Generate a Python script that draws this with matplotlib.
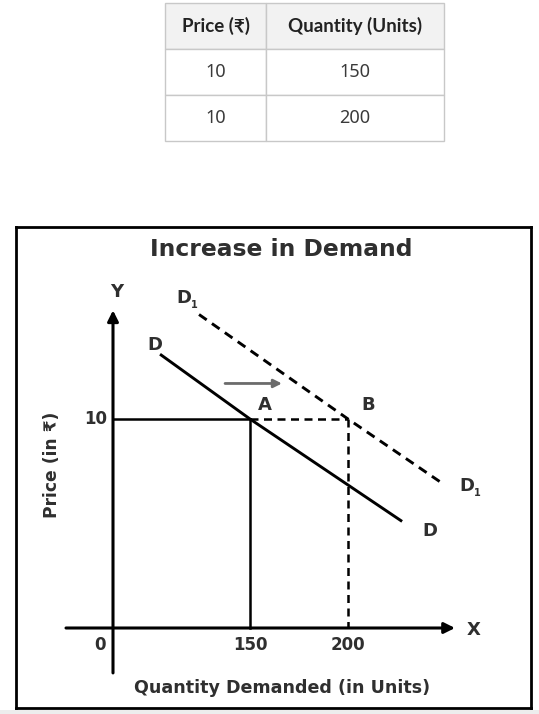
import numpy as np
import matplotlib
matplotlib.use("Agg")
import matplotlib.pyplot as plt
from matplotlib.patches import Rectangle

# ---------------- data ----------------
table_headers = ["Price (₹)", "Quantity (Units)"]
table_prices = [10, 10]
table_quantities = [150, 200]

title = "Increase in Demand"
x_label = "Quantity Demanded (in Units)"
y_label = "Price (in ₹)"
x_ticks = [0, 150, 200]
y_ticks = [10]

point_A = (150, 10)
point_B = (200, 10)
demand_D_q = [51.5, 150, 227.6]
demand_D_p = [13.1, 10, 5.1]
demand_D1_q = [94.2, 200, 246.9]
demand_D1_p = [15.0, 10, 7.0]
shift_arrow_q = [122.7, 166.3]
shift_arrow_p = 11.7

# schematic quantity axis (diagram not to scale)
q_knots = [-300, 0, 150, 200, 400]
pos_knots = [-273.9, 0, 137, 235, 627]

def fwd(q):
    return np.interp(q, q_knots, pos_knots)

def inv(p):
    return np.interp(p, pos_knots, q_knots)

HFONT = ["Lato", "Liberation Sans", "DejaVu Sans"]
TFONT = ["Noto Sans", "DejaVu Sans"]
CFONT = ["DejaVu Sans"]
TXT = "#2f2f2f"

W, H = 539, 714
fig = plt.figure(figsize=(W / 100, H / 100), dpi=100)
fig.patch.set_facecolor("white")

def fig_rect(x0, y0, x1, y1):
    return [x0 / W, 1 - y1 / H, (x1 - x0) / W, (y1 - y0) / H]

# light strip at the very bottom
fig.patches.append(Rectangle((0, 0), 1, 4 / H, transform=fig.transFigure,
                             facecolor="#ededed", edgecolor="none", zorder=0))

# ---------------- table ----------------
tax = fig.add_axes(fig_rect(165, 3, 444, 141))
tax.axis("off")
cell_text = [[str(p), str(q)] for p, q in zip(table_prices, table_quantities)]
tbl = tax.table(cellText=cell_text, colLabels=table_headers,
                colWidths=[101, 178], bbox=[0, 0, 1, 1], cellLoc="center")
tbl.auto_set_font_size(False)
for (r, c), cell in tbl.get_celld().items():
    cell.set_edgecolor("#c8c8c8")
    cell.set_linewidth(1.0)
    t = cell.get_text()
    if r == 0:
        cell.set_facecolor("#f2f2f2")
        t.set_family(HFONT)
        t.set_fontweight("bold")
        t.set_color("#222222")
        t.set_fontsize(13.5)
    else:
        cell.set_facecolor("white")
        t.set_family(TFONT)
        t.set_color("#3a3a3a")
        t.set_fontsize(13)

# ---------------- diagram ----------------
ax = fig.add_axes(fig_rect(16, 227, 531, 708))
ax.set_xscale("function", functions=(fwd, inv))
ax.set_xlim(inv(16 - 113), inv(531 - 113))
ax.set_ylim((628 - 708) / 20.9, (628 - 227) / 20.9)
ax.set_xticks([])
ax.set_yticks([])
for s in ax.spines.values():
    s.set_linewidth(2)
    s.set_color("black")

# axes arrows
ax.annotate("", xy=(inv(342), 0), xytext=(inv(-47), 0),
            arrowprops=dict(arrowstyle="-|>", color="black", lw=2.2,
                            mutation_scale=16, shrinkA=0, shrinkB=0))
ax.annotate("", xy=(0, 15.2), xytext=(0, -2.15),
            arrowprops=dict(arrowstyle="-|>", color="black", lw=2.2,
                            mutation_scale=16, shrinkA=0, shrinkB=0))

# demand curves
ax.plot(demand_D_q, demand_D_p, color="black", lw=2.1, solid_capstyle="butt")
ax.plot(demand_D1_q, demand_D1_p, color="black", lw=2.1, ls=(0, (3.2, 2.2)))

# guide lines
ax.plot([0, point_A[0]], [point_A[1], point_A[1]], color="black", lw=1.8)
ax.plot([point_A[0], point_A[0]], [point_A[1], 0], color="black", lw=1.8)
ax.plot([point_A[0], point_B[0]], [point_A[1], point_B[1]], color="black",
        lw=1.8, ls=(0, (3.2, 2.2)))
ax.plot([point_B[0], point_B[0]], [point_B[1], 0], color="black",
        lw=1.8, ls=(0, (3.2, 2.2)))

# shift arrow
ax.annotate("", xy=(shift_arrow_q[1], shift_arrow_p),
            xytext=(shift_arrow_q[0], shift_arrow_p),
            arrowprops=dict(arrowstyle="-|>", color="#6b6b6b", lw=2.0,
                            mutation_scale=12, shrinkA=0, shrinkB=0))

lab = dict(family=CFONT, fontweight="bold", color=TXT, fontsize=13)
tick = dict(family=CFONT, fontweight="bold", color=TXT, fontsize=12)

# title and axis labels
ax.text(0.515, 0.954, title, transform=ax.transAxes, ha="center", va="center",
        family=CFONT, fontweight="bold", color=TXT, fontsize=16.8)
ax.text(inv(169), (628 - 688) / 20.9, x_label, ha="center", va="center",
        family=CFONT, fontweight="bold", color=TXT, fontsize=12.6)
ax.text(inv(52 - 113), (628 - 465) / 20.9, y_label, ha="center", va="center",
        rotation=90, family=CFONT, fontweight="bold", color=TXT, fontsize=12.3)

# tick labels
for q in x_ticks:
    if q == 0:
        ax.text(inv(100 - 113), -0.81, str(q), ha="center", va="center", **tick)
    else:
        ax.text(q, -0.81, str(q), ha="center", va="center", **tick)
for p in y_ticks:
    ax.text(inv(107 - 113), p, str(p), ha="right", va="center", **tick)

# axis letters
ax.text(inv(117 - 113), (628 - 292) / 20.9, "Y", ha="center", va="center", **lab)
ax.text(inv(474 - 113), -0.1, "X", ha="center", va="center", **lab)

# point labels
ax.text(inv(265 - 113), 10.67, "A", ha="center", va="center", **lab)
ax.text(inv(368 - 113), 10.67, "B", ha="center", va="center", **lab)

# curve labels
ax.text(inv(155 - 113), (628 - 345) / 20.9, "D", ha="center", va="center", **lab)
ax.text(inv(430 - 113), (628 - 531) / 20.9, "D", ha="center", va="center", **lab)
for xpx, ypx in [(184, 298), (467, 486)]:
    ax.text(inv(xpx - 113), (628 - ypx) / 20.9, "D", ha="center", va="center", **lab)
    ax.text(inv(xpx + 10 - 113), (628 - ypx - 7) / 20.9, "1", ha="center",
            va="center", family=CFONT, fontweight="bold", color=TXT, fontsize=7)

fig.savefig("out.png", dpi=100, facecolor="white")
